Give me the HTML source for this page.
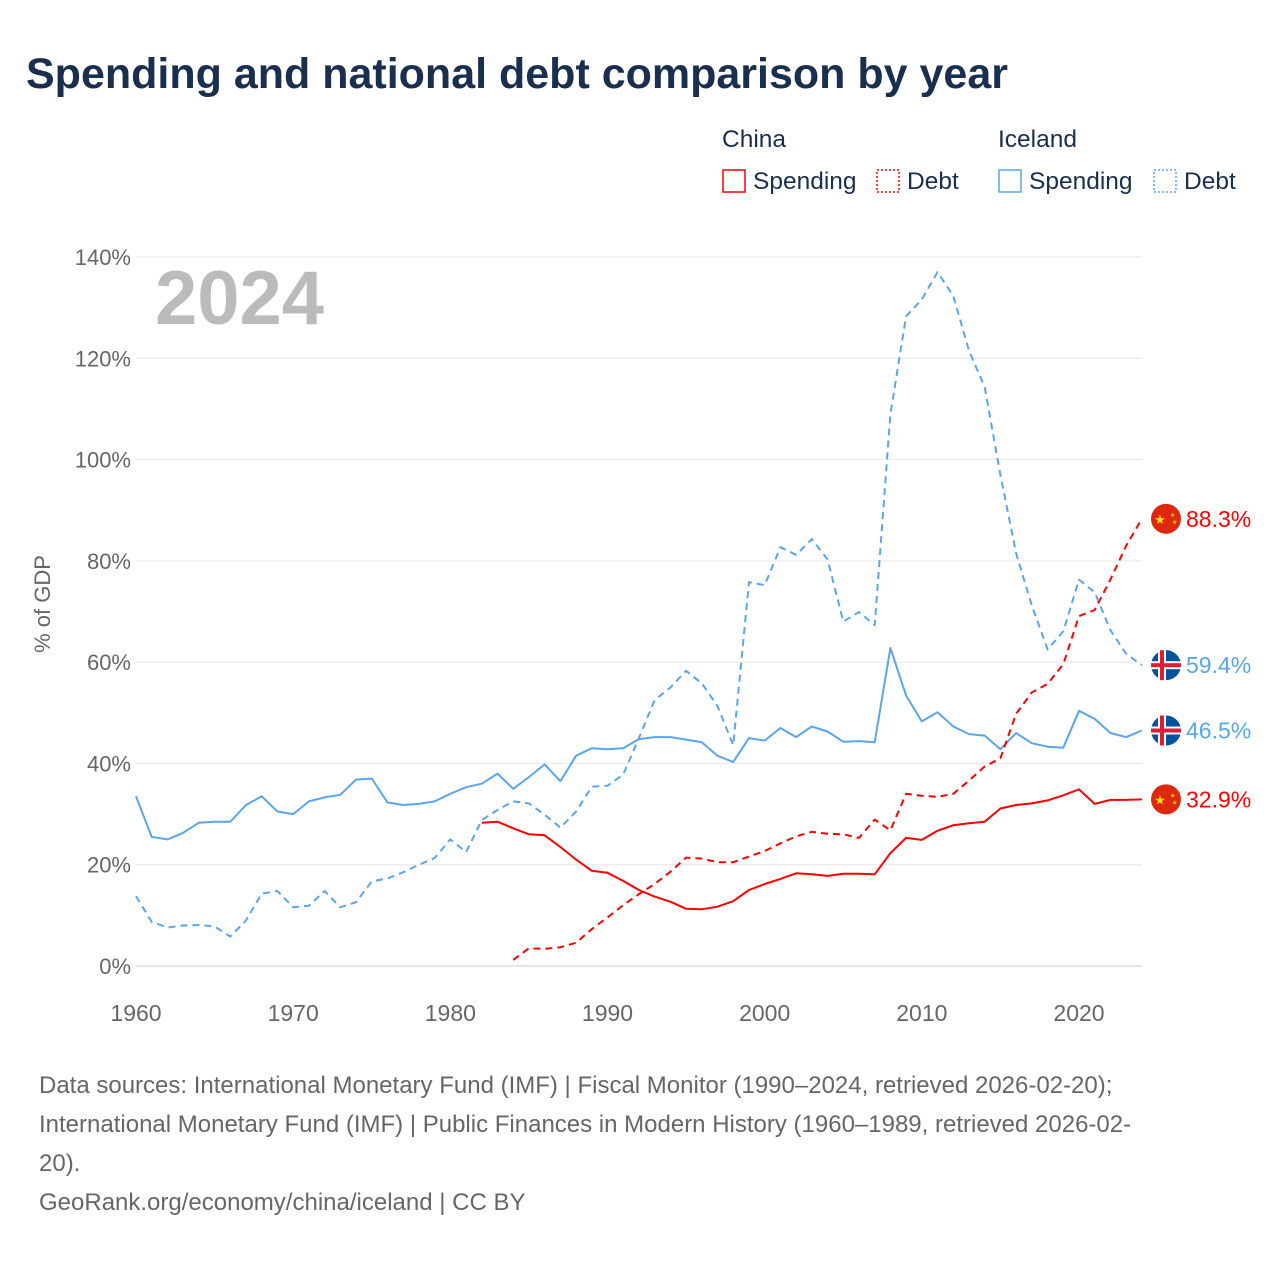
<!DOCTYPE html>
<html><head><meta charset="utf-8">
<style>
body{margin:0;background:#fff;font-family:"Liberation Sans",sans-serif;}
#wrap{position:relative;width:1280px;height:1280px;overflow:hidden;}
h1{position:absolute;left:26px;top:50px;margin:0;font-size:43px;font-weight:bold;color:#1a2e4d;letter-spacing:0px;}
.src{position:absolute;left:39px;top:1066px;font-size:24px;line-height:39px;color:#666;white-space:nowrap;}
</style></head>
<body>
<div id="wrap">
<h1>Spending and national debt comparison by year</h1>
<svg id="chart" width="1280" height="1280" style="position:absolute;left:0;top:0"></svg>
<div class="src">Data sources: International Monetary Fund (IMF) | Fiscal Monitor (1990–2024, retrieved 2026-02-20);<br>International Monetary Fund (IMF) | Public Finances in Modern History (1960–1989, retrieved 2026-02-<br>20).<br>GeoRank.org/economy/china/iceland | CC BY</div>
</div>
<script>
const iceSpendStart = 1960;
const iceSpending = [33.5,25.5,25,26.3,28.3,28.5,28.5,31.8,33.5,30.5,30,32.5,33.3,33.8,36.8,37,32.3,31.8,32,32.5,34,35.3,36,38,35,37.3,39.8,36.5,41.5,43,42.8,43,44.8,45.2,45.2,44.7,44.2,41.5,40.3,45,44.5,47,45.2,47.3,46.3,44.3,44.4,44.2,62.8,53.4,48.3,50.1,47.3,45.8,45.5,42.8,46,44,43.3,43.1,50.4,48.8,46,45.2,46.5];
const iceDebtStart = 1960;
const iceDebt = [13.8,8.7,7.6,8,8.1,7.8,5.8,9,14.3,14.8,11.6,11.9,14.8,11.6,12.6,16.7,17.3,18.5,20,21.3,25,22.5,28.8,30.8,32.5,32.1,29.9,27.3,30.5,35.4,35.6,37.8,45,52.5,55,58.3,55.8,51.3,43.6,75.8,75.2,82.7,81.2,84.3,80.3,68,69.9,67.3,109,128.3,131.6,137,132.3,121.5,114.3,97,81.5,71.2,62.5,66.1,76.3,73.8,66.3,61.6,59.4];
const chnSpendStart = 1982;
const chnSpending = [28.3,28.5,27.2,26,25.8,23.5,21,18.8,18.4,16.8,15,13.7,12.7,11.3,11.2,11.7,12.8,15,16.2,17.2,18.3,18.1,17.8,18.2,18.2,18.1,22.3,25.3,24.9,26.7,27.8,28.2,28.5,31.1,31.8,32.1,32.7,33.7,34.9,32,32.8,32.8,32.9];
const chnDebtStart = 1984;
const chnDebt = [1.2,3.5,3.4,3.7,4.6,7.3,9.6,12,14.2,16.2,18.6,21.4,21.2,20.5,20.5,21.6,22.7,24.2,25.6,26.5,26.1,26,25.3,28.9,26.8,34,33.6,33.4,34,36.6,39.4,41,49.8,54,55.7,59.6,69.1,70.3,76.3,83,88.3];
const yTicks = [0,20,40,60,80,100,120,140];
const xTicks = [1960,1970,1980,1990,2000,2010,2020];

const NS="http://www.w3.org/2000/svg";
const svg=document.getElementById('chart');
const X=y=>136+(y-1960)*(943/60);
const Y=v=>966-v*(709/140);
function mk(t,a,txt){const e=document.createElementNS(NS,t);for(const k in a)e.setAttribute(k,a[k]);if(txt!==undefined)e.textContent=txt;svg.appendChild(e);return e;}

yTicks.forEach(v=>{
  const g=mk('line',{x1:136,x2:1142,y1:Y(v),y2:Y(v),stroke:v===0?'#ccc':'#e6e6e6','stroke-width':1});
  
  
  const t=mk('text',{x:131,y:Y(v)+8,'text-anchor':'end','font-size':22,fill:'#666','font-family':'Liberation Sans'},v+'%');
  
  
});
xTicks.forEach(v=>{
  const t=mk('text',{x:X(v),y:1021,'text-anchor':'middle','font-size':23,fill:'#666','font-family':'Liberation Sans'},v);
  
  
});
const yt=mk('text',{x:0,y:0,transform:'translate(50,604) rotate(-90)','text-anchor':'middle','font-size':22,fill:'#666','font-family':'Liberation Sans'},'% of GDP');


const yr=mk('text',{x:155,y:324,'font-size':76,'font-weight':'bold',fill:'#bbb','font-family':'Liberation Sans'},'2024');



function line(arr,start,color,dash,name){
  const d=arr.map((v,i)=>(i?'L':'M')+X(start+i).toFixed(1)+','+Y(v).toFixed(1)).join('');
  const p=mk('path',{d:d,fill:'none',stroke:color,'stroke-width':2,'stroke-dasharray':dash||'none','stroke-linejoin':'round'});
  
  
}
line(iceDebt,iceDebtStart,'#5aa5ec','7,5','iceland-debt-line');
line(iceSpending,iceSpendStart,'#5aa5ec',null,'iceland-spending-line');
line(chnDebt,chnDebtStart,'#f00','7,5','china-debt-line');
line(chnSpending,chnSpendStart,'#f00',null,'china-spending-line');

function flag(v,country,color,name){
  const cy=Y(v),cx=1166;
  if(country==='cn'){
    const c=mk('circle',{cx:cx,cy:cy,r:15,fill:'#de2910'});
    
    
    mk('text',{x:cx-6,y:cy+5,'text-anchor':'middle','font-size':13,fill:'#ffde00'},'★');
    mk('text',{x:cx+4,y:cy-2,'font-size':6,fill:'#ffde00'},'★');
    mk('text',{x:cx+6,y:cy+5,'font-size':6,fill:'#ffde00'},'★');
  } else {
    const c=mk('circle',{cx:cx,cy:cy,r:15,fill:'#02529c'});
    
    
    mk('rect',{x:cx-15,y:cy-4,width:30,height:8,fill:'#fff'});
    mk('rect',{x:cx-8,y:cy-15,width:8,height:30,fill:'#fff'});
    mk('rect',{x:cx-15,y:cy-2,width:30,height:4,fill:'#dc1e35'});
    mk('rect',{x:cx-6,y:cy-15,width:4,height:30,fill:'#dc1e35'});
  }
  const t=mk('text',{x:1186,y:cy+8,'font-size':23,fill:color,'font-family':'Liberation Sans'},v+'%');
  
  
}
flag(chnDebt[chnDebt.length-1],'cn','#f00','china-debt');
flag(iceDebt[iceDebt.length-1],'is','#5aa5ec','iceland-debt');
flag(iceSpending[iceSpending.length-1],'is','#5aa5ec','iceland-spending');
flag(chnSpending[chnSpending.length-1],'cn','#f00','china-spending');

function lt(x,y,s,name){const t=mk('text',{x:x,y:y,'font-size':24.5,fill:'#1a2e4d','font-family':'Liberation Sans'},s);}
lt(722,147,'China','legend-china-title');
lt(998,147,'Iceland','legend-iceland-title');
function le(x,color,dash,label,name){
  const r=mk('rect',{x:x,y:170,width:22,height:22,fill:'none',stroke:color,'stroke-width':1.5,'stroke-dasharray':dash||'none'});
  
  
  lt(x+30,189,label,name+'-label');
}
le(723,'#f00',null,'Spending','legend-china-spending');
le(877,'#f00','2,2','Debt','legend-china-debt');
le(999,'#5aa5ec',null,'Spending','legend-iceland-spending');
le(1154,'#5aa5ec','2,2','Debt','legend-iceland-debt');
</script>
</body></html>
